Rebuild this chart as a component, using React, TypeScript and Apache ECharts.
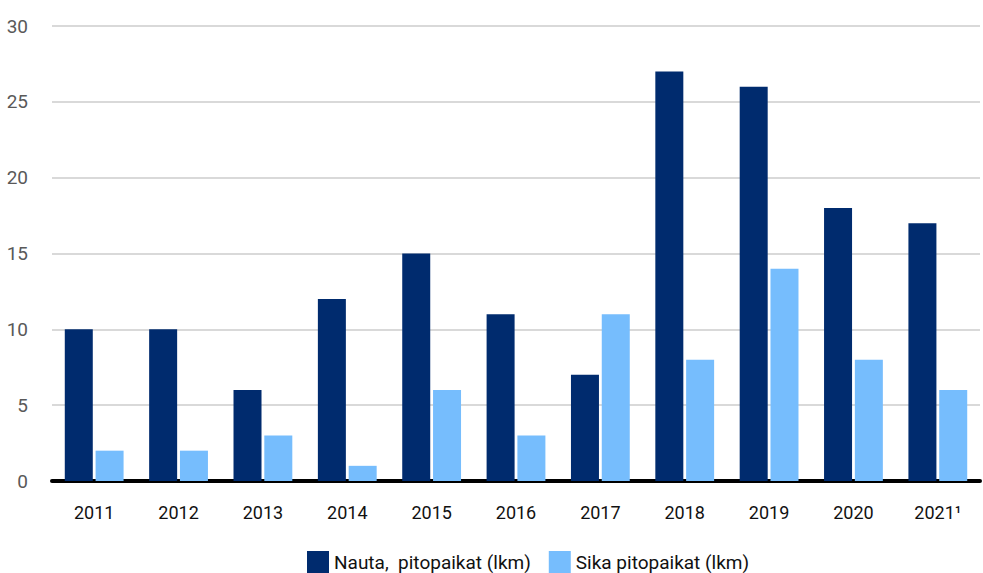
import React, { useEffect, useRef } from "react";
import * as echarts from "echarts";

const categories = ["2011", "2012", "2013", "2014", "2015", "2016", "2017", "2018", "2019", "2020", "2021¹"];
const nautaValues = [10, 10, 6, 12, 15, 11, 7, 27, 26, 18, 17];
const sikaValues = [2, 2, 3, 1, 6, 3, 11, 8, 14, 8, 6];
const seriesNames = ["Nauta,  pitopaikat (lkm)", "Sika pitopaikat (lkm)"];

const FONT = "Roboto, 'Noto Sans', sans-serif";

export default function App() {
  const ref = useRef<HTMLDivElement>(null);
  useEffect(() => {
    if (!ref.current) return;
    const chart = echarts.init(ref.current, undefined, { renderer: "svg" });
    chart.setOption({
      animation: false,
      textStyle: { fontFamily: FONT },
      grid: { left: 52, right: 3, top: 26, bottom: 92, containLabel: false },
      legend: {
        bottom: 0,
        left: 307,
        padding: 0,
        itemWidth: 22,
        itemHeight: 22,
        itemGap: 18,
        icon: "rect",
        textStyle: { fontFamily: FONT, fontSize: 19, color: "#111" },
        data: seriesNames,
      },
      xAxis: {
        type: "category",
        data: categories,
        axisLine: { lineStyle: { color: "#000", width: 4 } },
        axisTick: { show: false },
        axisLabel: { fontFamily: FONT, fontSize: 18, color: "#111", margin: 22 },
      },
      yAxis: {
        type: "value",
        min: 0,
        max: 30,
        interval: 5,
        axisLine: { show: false },
        axisTick: { show: false },
        splitLine: { lineStyle: { color: "#d9d9d9", width: 2 } },
        axisLabel: { fontFamily: FONT, fontSize: 19, color: "#595959", margin: 24, align: "right" },
      },
      series: [
        {
          name: seriesNames[0],
          type: "bar",
          data: nautaValues,
          barWidth: 28,
          barGap: "10%",
          itemStyle: { color: "#002b6e" },
        },
        {
          name: seriesNames[1],
          type: "bar",
          data: sikaValues,
          barWidth: 28,
          itemStyle: { color: "#76bdfd" },
        },
      ],
    });
    return () => chart.dispose();
  }, []);
  return <div ref={ref} style={{ width: 983, height: 573, position: "absolute", left: 0, top: 0 }} />;
}
